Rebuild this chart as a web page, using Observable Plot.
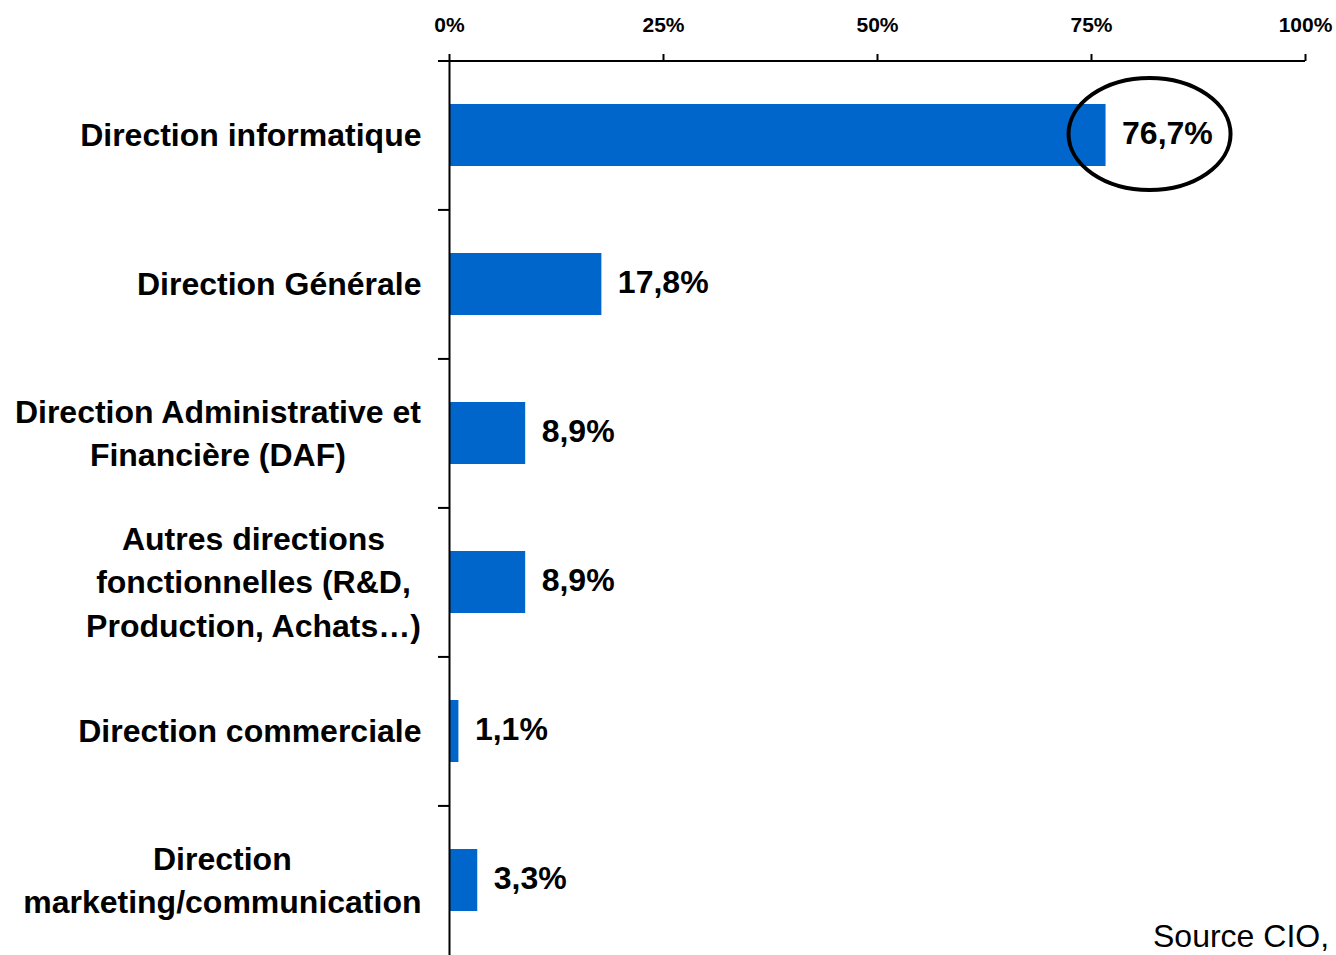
<!DOCTYPE html>
<html>
<head>
<meta charset="utf-8">
<script src="https://cdn.jsdelivr.net/npm/d3@7"></script>
<script src="https://cdn.jsdelivr.net/npm/@observablehq/plot@0.6"></script>
<style>
  html, body { margin: 0; padding: 0; background: #fff; }
  #wrap { position: relative; width: 1336px; height: 955px; overflow: hidden; }
  #source { position: absolute; left: 1153px; top: 920px; font: 32px "Liberation Sans", Arial, sans-serif; line-height: 32px; color: #000; white-space: nowrap; }
</style>
</head>
<body>
<div id="wrap"><div id="source">Source CIO,</div></div>
<script>
const categories = [
  "Direction informatique",
  "Direction Générale",
  "Direction Administrative et\nFinancière (DAF)",
  "Autres directions\nfonctionnelles (R&D,\nProduction, Achats…)",
  "Direction commerciale",
  "Direction\nmarketing/communication"
];
const values = [76.7, 17.8, 8.9, 8.9, 1.1, 3.3];
const xTicks = [0, 25, 50, 75, 100];
const highlighted = "Direction informatique";

const data = categories.map((c, i) => ({category: c, value: values[i]}));

const W = 1336, H = 955, mTop = 60, mLeft = 449, mRight = 31, mBottom = 0;
const nCat = categories.length;
const padInner = 0.584, padOuter = 0.292;
const step = (H - mTop - mBottom) / nCat;
const bandW = step * (1 - padInner);
const tickLen = 11 * 100 / (W - mLeft - mRight);
const labelFont = "bold 32px 'Liberation Sans'";

const ctx = document.createElement("canvas").getContext("2d");
ctx.font = labelFont;
const labelWidth = c => Math.max(...c.split("\n").map(s => ctx.measureText(s).width));

const fmt = v => v.toFixed(1).replace(".", ",") + "%";

const ellipseMark = (index, scales) => {
  let bw = bandW;
  if (scales.y && typeof scales.y.bandwidth === "function") bw = scales.y.bandwidth();
  else if (scales.y && typeof scales.y.bandwidth === "number") bw = scales.y.bandwidth;
  let yPos = scales.y(highlighted);
  if (!Number.isFinite(yPos)) yPos = mTop + step * padOuter;
  const cx = scales.x(values[0]) + 44;
  const cy = yPos + bw / 2 - 1;
  return d3.create("svg:ellipse")
    .attr("cx", cx).attr("cy", cy)
    .attr("rx", 81).attr("ry", 56)
    .attr("fill", "none").attr("stroke", "#000").attr("stroke-width", 4)
    .node();
};

const labelMarks = categories.map(c => Plot.text([c], {
  x: () => 0, y: d => d, text: d => d,
  textAnchor: "middle", lineAnchor: "middle", lineHeight: 1.35,
  dx: -(28 + labelWidth(c) / 2), dy: -3,
  fontSize: 32, fontWeight: "bold", fill: "#000"
}));

const chart = Plot.plot({
  width: W, height: H,
  marginTop: mTop, marginLeft: mLeft, marginRight: mRight, marginBottom: mBottom,
  style: {fontFamily: "'Liberation Sans', Arial, sans-serif", background: "transparent", overflow: "visible"},
  x: {domain: [0, 100], axis: null},
  y: {domain: categories, axis: null, paddingInner: padInner, paddingOuter: padOuter},
  marks: [
    Plot.barX(data, {x: "value", y: "category", fill: "#0066CC"}),
    Plot.ruleY([categories[0]], {x1: -tickLen, x2: 100, dy: -step / 2, stroke: "#000", strokeWidth: 2}),
    Plot.ruleY(categories.slice(1), {x1: -tickLen, x2: 0, dy: -step / 2, stroke: "#000", strokeWidth: 2}),
    Plot.ruleX([0], {stroke: "#000", strokeWidth: 2}),
    Plot.axisX(xTicks, {anchor: "top", label: null, tickSize: 7, tickPadding: 22, tickFormat: d => d + "%",
      fontSize: 21, fontWeight: "bold", stroke: "#000", strokeWidth: 2, color: "#000"}),
    Plot.text(data, {x: "value", y: "category", text: d => fmt(d.value), textAnchor: "start", dx: 16, dy: -2,
      fontSize: 32, fontWeight: "bold", fill: "#000"}),
    ...labelMarks,
    ellipseMark
  ]
});
document.getElementById("wrap").prepend(chart);
</script>
</body>
</html>
